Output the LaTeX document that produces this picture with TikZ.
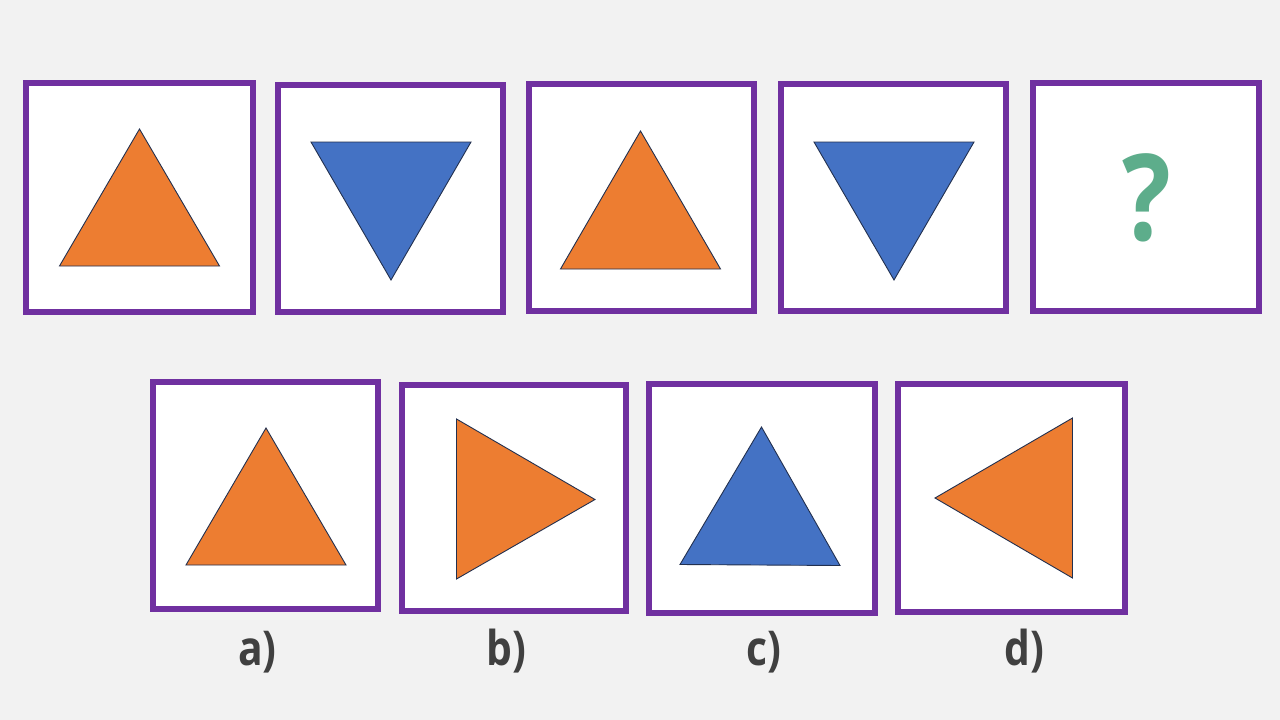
\documentclass[tikz,border=0pt]{standalone}
\usepackage{fontspec}
\setmainfont{Open Sans}
\definecolor{bg}{HTML}{F2F2F2}
\definecolor{purp}{HTML}{7030A0}
\definecolor{orng}{HTML}{ED7D31}
\definecolor{blu}{HTML}{4472C4}
\definecolor{edge}{HTML}{22304F}
\definecolor{qgreen}{HTML}{5DAD8B}
\definecolor{lab}{HTML}{404040}
\tikzset{
  frame/.style={draw=purp, line width=6pt, fill=white},
  otri/.style={fill=orng, draw=edge, line width=0.9pt, line join=miter},
  btri/.style={fill=blu, draw=edge, line width=0.9pt, line join=miter},
  lbl/.style={anchor=base, text=lab, font=\bfseries\fontsize{48}{48}\selectfont, inner sep=0pt}
}
\begin{document}
\begin{tikzpicture}[x=1pt,y=-1pt]
\fill[bg] (0,0) rectangle (1280,720);
\useasboundingbox (0,0) rectangle (1280,720);
% top row frames
\draw[frame] (26,83) rectangle (253,312);
\draw[frame] (278,85) rectangle (503,312);
\draw[frame] (529,84) rectangle (754,311);
\draw[frame] (781,84) rectangle (1006,311);
\draw[frame] (1033,83) rectangle (1259,311);
% top row shapes
\draw[otri] (139.5,129) -- (219.5,266) -- (59.5,266) -- cycle;
\draw[btri] (311,142) -- (471,142) -- (391,280) -- cycle;
\draw[otri] (640.5,131) -- (720.5,269) -- (560.5,269) -- cycle;
\draw[btri] (814,142) -- (974,142) -- (894,280) -- cycle;
\node[text=qgreen, font=\bfseries\fontsize{120}{120}\selectfont, inner sep=0pt, anchor=base] (q) at (1147,240) {\scalebox{0.85}[1]{?}};
% bottom row frames
\draw[frame] (153,382) rectangle (378,609);
\draw[frame] (402,385) rectangle (626,611);
\draw[frame] (649,384) rectangle (875,613);
\draw[frame] (898,384) rectangle (1125,612);
% bottom row shapes
\draw[otri] (266,428) -- (346,565) -- (186,565) -- cycle;
\draw[otri] (456.5,419) -- (595,499.5) -- (456.5,579) -- cycle;
\draw[btri] (761.5,427) -- (840,565.5) -- (680,564.5) -- cycle;
\draw[otri] (1072.5,418) -- (1072.5,578) -- (935,498) -- cycle;
% labels
\node[lbl] (la) at (257.5,665) {\scalebox{0.85}[1]{a)}};
\node[lbl] (lb) at (506,665) {\scalebox{0.85}[1]{b)}};
\node[lbl] (lc) at (764,665) {\scalebox{0.85}[1]{c)}};
\node[lbl] (ld) at (1024,665) {\scalebox{0.85}[1]{d)}};
\end{tikzpicture}
\end{document}
